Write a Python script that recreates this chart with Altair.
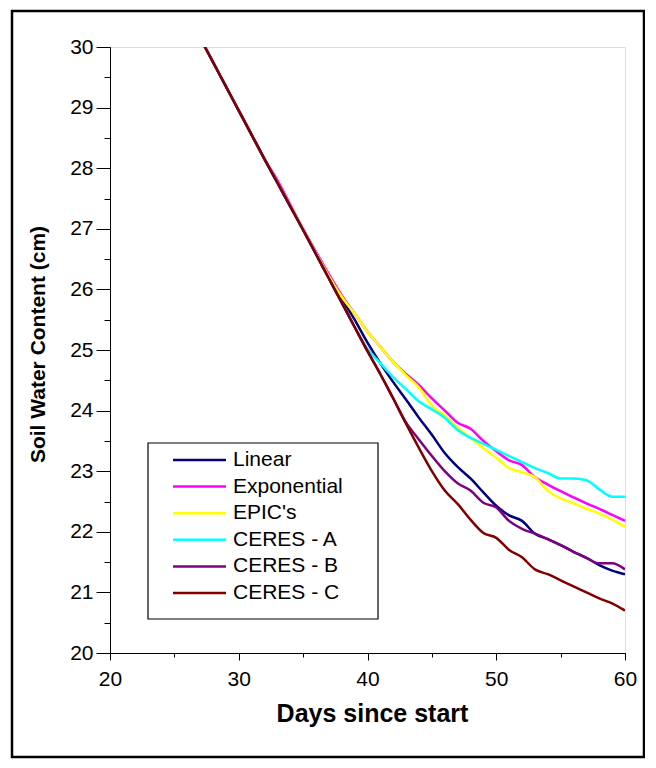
import altair as alt
import pandas as pd

days = list(range(27, 61))

linear = [30.15, 29.75, 29.35, 28.95, 28.55, 28.15, 27.76, 27.37, 26.98,
          26.60, 26.22, 25.85, 25.50, 25.12, 24.78, 24.47, 24.18, 23.88, 23.60,
          23.30, 23.07, 22.88, 22.65, 22.43, 22.27, 22.18, 21.97, 21.88, 21.78,
          21.67, 21.57, 21.45, 21.36, 21.30]
exponential = [30.15, 29.75, 29.35, 28.95, 28.55, 28.15, 27.80, 27.40, 27.00,
               26.62, 26.25, 25.90, 25.60, 25.30, 25.05, 24.80, 24.60, 24.42, 24.20,
               24.00, 23.80, 23.70, 23.50, 23.33, 23.18, 23.10, 22.90, 22.78, 22.67,
               22.57, 22.47, 22.38, 22.28, 22.18]
epic = [30.15, 29.75, 29.35, 28.95, 28.55, 28.15, 27.76, 27.38, 26.99,
        26.60, 26.22, 25.88, 25.60, 25.30, 25.05, 24.80, 24.58, 24.38, 24.08,
        23.92, 23.72, 23.55, 23.38, 23.22, 23.05, 22.98, 22.90, 22.68, 22.55,
        22.47, 22.38, 22.30, 22.20, 22.08]
ceres_a = [30.15, 29.75, 29.35, 28.95, 28.55, 28.15, 27.76, 27.37, 26.98,
           26.58, 26.18, 25.78, 25.38, 25.02, 24.78, 24.55, 24.35, 24.15, 24.02,
           23.88, 23.68, 23.55, 23.45, 23.35, 23.25, 23.15, 23.05, 22.97, 22.88,
           22.88, 22.85, 22.70, 22.58, 22.58]
ceres_b = [30.15, 29.75, 29.35, 28.95, 28.55, 28.15, 27.76, 27.37, 26.98,
           26.58, 26.18, 25.78, 25.38, 24.98, 24.60, 24.20, 23.80, 23.52, 23.25,
           23.00, 22.80, 22.68, 22.48, 22.40, 22.18, 22.05, 21.97, 21.88, 21.78,
           21.67, 21.57, 21.48, 21.48, 21.38]
ceres_c = [30.15, 29.75, 29.35, 28.95, 28.55, 28.15, 27.76, 27.37, 26.98,
           26.58, 26.18, 25.78, 25.38, 24.98, 24.60, 24.20, 23.78, 23.38, 23.00,
           22.68, 22.46, 22.20, 21.98, 21.90, 21.70, 21.58, 21.38, 21.30, 21.20,
           21.10, 21.00, 20.90, 20.82, 20.70]

series_names = ["Linear", "Exponential", "EPIC's", "CERES - A", "CERES - B", "CERES - C"]
series_colors = ["#000080", "#FF00FF", "#FFFF00", "#00FFFF", "#800080", "#800000"]
series_values = [linear, exponential, epic, ceres_a, ceres_b, ceres_c]

x_major = [20, 30, 40, 50, 60]
x_minor = [20, 25, 30, 35, 40, 45, 50, 55, 60]
y_major = [20, 21, 22, 23, 24, 25, 26, 27, 28, 29, 30]
y_minor = [20 + 0.5 * i for i in range(21)]

rows = []
for i, (name, vals) in enumerate(zip(series_names, series_values)):
    for d, v in zip(days, vals):
        rows.append({"day": d, "swc": v, "series": name, "order": i})
df = pd.DataFrame(rows)

leg = pd.DataFrame({"series": series_names, "idx": list(range(len(series_names)))})
one = pd.DataFrame({"a": [0]})

FONT = "Liberation Sans"
W, H = 515, 606

xs = alt.Scale(domain=[20, 60], nice=False, zero=False)
ys = alt.Scale(domain=[20, 30], nice=False, zero=False)
cs = alt.Scale(domain=series_names, range=series_colors)

minor_axes = alt.Chart(df).mark_line(strokeOpacity=0).encode(
    x=alt.X("day:Q", scale=xs, axis=alt.Axis(orient="bottom", values=x_minor, tickSize=4,
                                              labels=False, title=None, grid=False,
                                              domain=False, tickColor="black")),
    y=alt.Y("swc:Q", scale=ys, axis=alt.Axis(orient="left", values=y_minor, tickSize=6,
                                              labels=False, title=None, grid=False,
                                              domain=False, tickColor="black")),
    detail="series:N",
)

lines = alt.Chart(df).mark_line(strokeWidth=2.5, clip=True, interpolate="monotone").encode(
    x=alt.X("day:Q", scale=xs, axis=alt.Axis(
        orient="bottom", values=x_major, tickSize=7, labelPadding=8, grid=False,
        labelFlush=False, labelFontSize=21,
        title="Days since start", titleFontSize=25, titleFontWeight="bold",
        titleX=262, titleY=60, titleBaseline="middle",
        domainColor="black", tickColor="black", labelColor="black", titleColor="black")),
    y=alt.Y("swc:Q", scale=ys, axis=alt.Axis(
        orient="left", values=y_major, tickSize=14, labelPadding=3, grid=False,
        labelFlush=False, labelFontSize=21,
        title="Soil Water Content (cm)", titleFontSize=21, titleFontWeight="bold",
        titleX=-72, titleY=297, titleBaseline="middle",
        domainColor="black", tickColor="black", labelColor="black", titleColor="black")),
    color=alt.Color("series:N", scale=cs, legend=None),
    detail="series:N",
)

border = alt.Chart(one).mark_rect(filled=False, stroke="black", strokeWidth=2.5).encode(
    x=alt.value(-98), x2=alt.value(534), y=alt.value(-36), y2=alt.value(710)
)

legend_box = alt.Chart(one).mark_rect(fill="white", stroke="black", strokeWidth=1.2).encode(
    x=alt.value(38), x2=alt.value(268), y=alt.value(396), y2=alt.value(572)
)

ly = alt.Scale(domain=[0, 5], range=[413, 546])

legend_rules = alt.Chart(leg).mark_rule(strokeWidth=2.5).encode(
    x=alt.value(63), x2=alt.value(116),
    y=alt.Y("idx:Q", scale=ly, axis=None),
    color=alt.Color("series:N", scale=cs, legend=None),
)

legend_text = alt.Chart(leg).mark_text(align="left", baseline="middle", fontSize=21,
                                        font=FONT, color="black").encode(
    x=alt.value(123),
    y=alt.Y("idx:Q", scale=ly, axis=None),
    text="series:N",
)

chart = alt.layer(border, minor_axes, lines, legend_box, legend_rules, legend_text).resolve_scale(
    y="independent", x="independent"
).resolve_axis(x="independent", y="independent").properties(
    width=W, height=H,
    autosize=alt.AutoSizeParams(type="none"),
    padding={"left": 102, "top": 39, "right": 20, "bottom": 112},
).configure_view(
    stroke="black", strokeWidth=1
).configure_axis(
    labelFont=FONT, titleFont=FONT
).configure(background="white")

chart.save("out.html", embed_options={"renderer": "svg", "actions": False})
